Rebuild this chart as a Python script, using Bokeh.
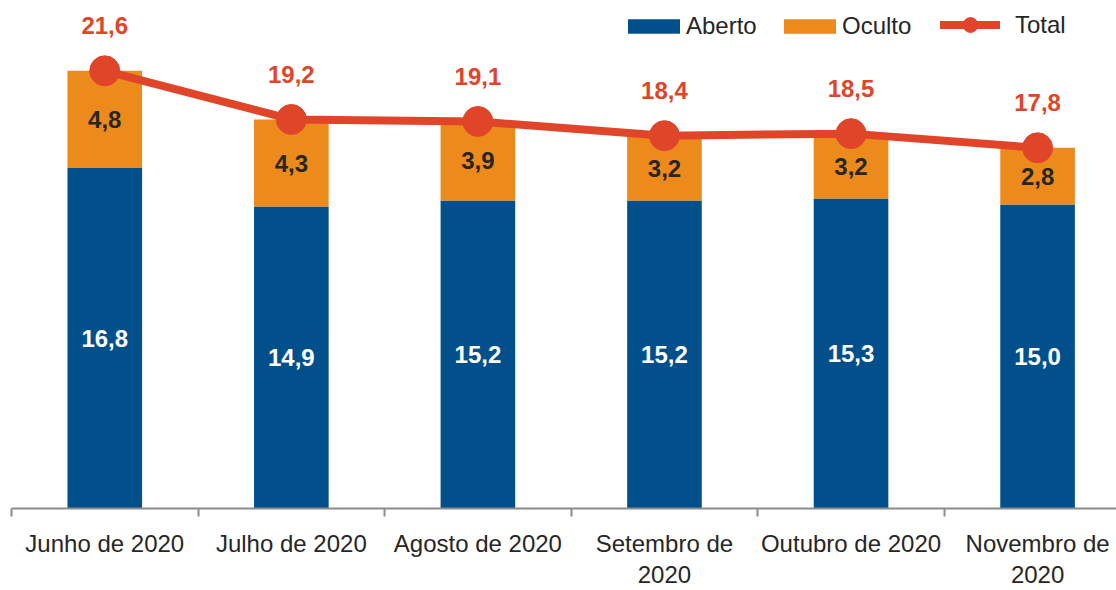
from bokeh.plotting import figure
from bokeh.models import (ColumnDataSource, Range1d, FixedTicker, Legend, LegendItem)
from bokeh.core.properties import value
from bokeh.embed import file_html
from bokeh.resources import INLINE

categories = ["Junho de 2020", "Julho de 2020", "Agosto de 2020",
              "Setembro de 2020", "Outubro de 2020", "Novembro de 2020"]
tick_labels = ["Junho de 2020", "Julho de 2020", "Agosto de 2020",
               "Setembro de\n2020", "Outubro de 2020", "Novembro de\n2020"]
aberto = [16.8, 14.9, 15.2, 15.2, 15.3, 15.0]
oculto = [4.8, 4.3, 3.9, 3.2, 3.2, 2.8]
total = [21.6, 19.2, 19.1, 18.4, 18.5, 17.8]

BLUE = "#01508C"
ORANGE = "#EC8A1C"
RED = "#E0452A"
DARK = "#262626"
FONT = "Liberation Sans"

def fmt(v):
    return f"{v:.1f}".replace(".", ",")

xs = list(range(len(categories)))
src = ColumnDataSource(dict(
    x=xs, aberto=aberto, oculto=oculto, total=total,
    ab_mid=[a / 2 for a in aberto],
    oc_mid=[a + o / 2 for a, o in zip(aberto, oculto)],
    ab_lbl=[fmt(v) for v in aberto],
    oc_lbl=[fmt(v) for v in oculto],
    tot_lbl=[fmt(v) for v in total],
))

p = figure(width=1116, height=590, output_backend="svg", toolbar_location=None,
           x_range=Range1d(-0.5, 5.423), y_range=Range1d(0, 25.07),
           min_border_left=11, min_border_right=0, min_border_top=0,
           min_border_bottom=78)
p.outline_line_color = None
p.xgrid.visible = False
p.ygrid.visible = False
p.yaxis.visible = False
p.background_fill_color = "white"

bars = p.vbar_stack(["aberto", "oculto"], x="x", width=0.4, source=src,
                    color=[BLUE, ORANGE], line_color=None)
ln = p.line("x", "total", source=src, line_color=RED, line_width=8,
            line_join="round", line_cap="round")
sc = p.scatter("x", "total", source=src, size=30, fill_color=RED, line_color=RED)

LBL = "24px"
p.text("x", "ab_mid", text="ab_lbl", source=src, text_align="center",
       text_baseline="middle", text_color="white", text_font=value(FONT),
       text_font_style="bold", text_font_size=LBL)
p.text("x", "oc_mid", text="oc_lbl", source=src, text_align="center",
       text_baseline="middle", text_color=DARK, text_font=value(FONT),
       text_font_style="bold", text_font_size=LBL)
p.text("x", "total", text="tot_lbl", source=src, text_align="center",
       text_baseline="middle", text_color=RED, text_font=value(FONT),
       text_font_style="bold", text_font_size=LBL, y_offset=-45)

ax = p.xaxis[0]
ax.ticker = FixedTicker(ticks=xs, minor_ticks=[i - 0.5 for i in range(len(xs) + 1)])
ax.major_label_overrides = {i: t for i, t in enumerate(tick_labels)}
ax.major_tick_out = 0
ax.major_tick_in = 0
ax.minor_tick_out = 8
ax.minor_tick_in = 0
ax.minor_tick_line_color = "#8C8C8C"
ax.minor_tick_line_width = 2
ax.axis_line_color = "#8C8C8C"
ax.axis_line_width = 2
ax.major_label_text_font = FONT
ax.major_label_text_font_size = "24px"
ax.major_label_text_color = DARK
ax.major_label_standoff = 13
ax.major_label_text_line_height = 1.15

def mk_legend(item, loc, gw, gh, standoff):
    lg = Legend(items=[item], location=loc, orientation="horizontal",
                glyph_width=gw, glyph_height=gh, padding=0, margin=0,
                label_standoff=standoff, spacing=0, border_line_color=None,
                background_fill_alpha=0, label_text_font=FONT,
                label_text_font_size="24px", label_text_color=DARK)
    p.add_layout(lg, "center")

mk_legend(LegendItem(label="Aberto", renderers=[bars[0]]), (610, 468), 65, 18, 0)
mk_legend(LegendItem(label="Oculto", renderers=[bars[1]]), (766, 468), 65, 18, 0)
mk_legend(LegendItem(label="Total", renderers=[ln, sc]), (929, 465), 60, 37, 15)

open("out.html", "w").write(file_html(p, INLINE))
